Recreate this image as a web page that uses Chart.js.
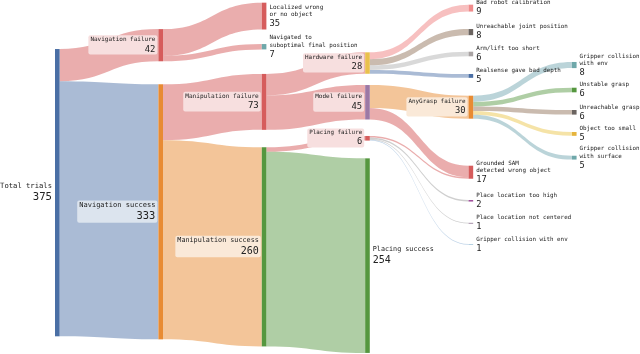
<!DOCTYPE html>
<html>
<head>
<meta charset="utf-8">
<script src="https://cdn.jsdelivr.net/npm/chart.js@4.4.0/dist/chart.umd.min.js"></script>
<style>
  html, body { margin: 0; padding: 0; background: #fff; }
  #wrap { width: 640px; height: 354px; }
</style>
</head>
<body>
<div id="wrap"><canvas id="sankey"></canvas></div>
<script>
// nodes of the flow diagram
const nodeNames = [
  'Total trials', 'Navigation failure', 'Navigation success',
  'Localized wrong\nor no object', 'Navigated to\nsuboptimal final position',
  'Manipulation failure', 'Manipulation success',
  'Hardware failure', 'Model failure', 'Placing failure', 'Placing success',
  'Bad robot calibration', 'Unreachable joint position', 'Arm/lift too short',
  'Realsense gave bad depth', 'AnyGrasp failure', 'Grounded SAM\ndetected wrong object',
  'Place location too high', 'Place location not centered', 'Gripper collision with env',
  'Gripper collision\nwith env', 'Unstable grasp', 'Unreachable grasp',
  'Object too small', 'Gripper collision\nwith surface'
];
const nodeValues = [375, 42, 333, 35, 7, 73, 260, 28, 45, 6, 254, 9, 8, 6, 5, 30, 17, 2, 1, 1, 8, 6, 6, 5, 5];

// flows: source index, target index, size
const linkSource = [0, 0, 1, 1, 2, 2, 5, 5, 6, 6, 7, 7, 7, 7, 8, 8, 9, 9, 9, 9, 15, 15, 15, 15, 15];
const linkTarget = [1, 2, 3, 4, 5, 6, 7, 8, 9, 10, 11, 12, 13, 14, 15, 16, 16, 17, 18, 19, 20, 21, 22, 23, 24];
const linkValues = [42, 333, 35, 7, 73, 260, 28, 45, 6, 254, 9, 8, 6, 5, 30, 15, 2, 2, 1, 1, 8, 6, 6, 5, 5];

// layout: column of each node and the free space above it (in flow units)
const nodeColumn = [0, 1, 1, 2, 2, 2, 2, 3, 3, 3, 3, 4, 4, 4, 4, 4, 4, 4, 4, 4, 5, 5, 5, 5, 5];
const nodeGap = [64, 38, 30, 3.5, 19, 32, 22.7, 68.3, 14.7, 21.5, 23.2,
  6.1, 22.8, 21.6, 23.1, 23.3, 61.4, 27.8, 27.8, 26.6, 80.9, 25.6, 23.1, 22.7, 26];

// colours
const RED = '#d65c5c', BLUE = '#4a6fa5', ORANGE = '#e88b33', GREEN = '#55973f', TEAL = '#6fa8aa';
const nodeColors = [BLUE, RED, ORANGE, RED, TEAL, RED, GREEN, '#e9c04c', '#9c78a5', RED, GREEN,
  '#f08c8c', '#6b6460', '#a9a3a3', BLUE, ORANGE, RED, '#a04f9c', '#8c6f8f', '#9ec3d9',
  TEAL, GREEN, '#6b6460', '#e6b43c', TEAL];
const linkColors = [
  'rgba(214,92,92,0.5)', 'rgba(74,111,165,0.47)', 'rgba(214,92,92,0.5)', 'rgba(214,92,92,0.5)',
  'rgba(214,92,92,0.5)', 'rgba(232,139,51,0.5)', 'rgba(214,92,92,0.5)', 'rgba(214,92,92,0.5)',
  'rgba(214,92,92,0.5)', 'rgba(85,151,63,0.47)', 'rgba(240,140,140,0.55)', 'rgba(150,120,95,0.5)',
  'rgba(170,170,170,0.45)', 'rgba(74,111,165,0.47)', 'rgba(232,139,51,0.5)', 'rgba(214,92,92,0.5)',
  'rgba(214,92,92,0.5)', 'rgba(160,160,160,0.5)', 'rgba(160,160,160,0.5)', 'rgba(130,170,210,0.5)',
  'rgba(120,170,180,0.5)', 'rgba(85,151,63,0.47)', 'rgba(150,120,95,0.5)', 'rgba(235,200,80,0.5)',
  'rgba(120,170,180,0.5)'
];
const boxColors = { red: 'rgb(247,223,223)', blue: 'rgb(220,228,238)', orange: 'rgb(250,233,216)' };

const NODE_W = 0.0445; // in column units
const FONT = '"DejaVu Sans Mono", monospace';

// stack nodes inside their column
const nodeTop = [];
const colEnd = {};
nodeValues.forEach((v, i) => {
  const c = nodeColumn[i];
  const start = (colEnd[c] || 0) + nodeGap[i];
  nodeTop.push(start);
  colEnd[c] = start + v;
});

const sankeyPlugin = {
  id: 'sankey',
  afterDatasetsDraw(chart) {
    const { ctx, scales: { x, y } } = chart;
    const outUsed = nodeValues.map(() => 0);
    const inUsed = nodeValues.map(() => 0);

    // links
    linkValues.forEach((v, i) => {
      const s = linkSource[i], t = linkTarget[i];
      const x0 = x.getPixelForValue(nodeColumn[s] + NODE_W);
      const x1 = x.getPixelForValue(nodeColumn[t]);
      const a0 = y.getPixelForValue(nodeTop[s] + outUsed[s]);
      const b0 = y.getPixelForValue(nodeTop[s] + outUsed[s] + v);
      const a1 = y.getPixelForValue(nodeTop[t] + inUsed[t]);
      const b1 = y.getPixelForValue(nodeTop[t] + inUsed[t] + v);
      outUsed[s] += v;
      inUsed[t] += v;
      const xm = (x0 + x1) / 2;
      ctx.beginPath();
      ctx.moveTo(x0, a0);
      ctx.bezierCurveTo(xm, a0, xm, a1, x1, a1);
      ctx.lineTo(x1, b1);
      ctx.bezierCurveTo(xm, b1, xm, b0, x0, b0);
      ctx.closePath();
      ctx.fillStyle = linkColors[i];
      ctx.fill();
    });

    // nodes
    nodeValues.forEach((v, i) => {
      const xl = x.getPixelForValue(nodeColumn[i]);
      const xr = x.getPixelForValue(nodeColumn[i] + NODE_W);
      const yt = y.getPixelForValue(nodeTop[i]);
      const yb = y.getPixelForValue(nodeTop[i] + v);
      ctx.fillStyle = nodeColors[i];
      ctx.fillRect(xl, yt, xr - xl, yb - yt);
    });

    // labels
    nodeValues.forEach((v, i) => {
      const lines = nodeNames[i].split('\n');
      const nf = 5.85 + 0.0036 * v;
      const vf = nf * 1.48;
      const nameLH = nf * 1.25;
      const valLH = vf * 1.05;
      const blockH = lines.length * nameLH + valLH;
      const cy = (y.getPixelForValue(nodeTop[i]) + y.getPixelForValue(nodeTop[i] + v)) / 2;
      const top = cy - blockH / 2;
      const hasOut = linkSource.includes(i);
      const inIdx = linkTarget.indexOf(i);
      const xl = x.getPixelForValue(nodeColumn[i]);
      const xr = x.getPixelForValue(nodeColumn[i] + NODE_W);

      if (hasOut) {
        const tx = xl - 3;
        if (inIdx >= 0) {
          ctx.font = `${nf}px ${FONT}`;
          let w = Math.max(...lines.map(l => ctx.measureText(l).width));
          ctx.font = `${vf}px ${FONT}`;
          w = Math.max(w, ctx.measureText(String(v)).width);
          const c = linkColors[inIdx];
          const box = c.startsWith('rgba(214') ? boxColors.red
            : c.startsWith('rgba(74') ? boxColors.blue : boxColors.orange;
          ctx.fillStyle = box;
          ctx.beginPath();
          ctx.roundRect(tx - w - 2, top - 1.5, xl - 1 - (tx - w - 2), blockH + 2.5, 2);
          ctx.fill();
        }
        ctx.textAlign = 'right';
        drawText(ctx, lines, v, tx, top, nf, vf, nameLH);
      } else {
        ctx.textAlign = 'left';
        drawText(ctx, lines, v, xr + 3, top, nf, vf, nameLH);
      }
    });
  }
};

function drawText(ctx, lines, v, tx, top, nf, vf, nameLH) {
  ctx.fillStyle = '#222';
  ctx.textBaseline = 'top';
  ctx.font = `${nf}px ${FONT}`;
  lines.forEach((l, k) => ctx.fillText(l, tx, top + k * nameLH));
  ctx.font = `${vf}px ${FONT}`;
  ctx.fillText(String(v), tx, top + lines.length * nameLH + 0.5);
}

new Chart(document.getElementById('sankey').getContext('2d'), {
  type: 'scatter',
  data: { datasets: [{ data: [] }] },
  options: {
    responsive: true,
    maintainAspectRatio: false,
    animation: false,
    layout: { padding: 0 },
    scales: {
      x: { type: 'linear', display: false, min: -0.532, max: 5.658 },
      y: { type: 'linear', display: false, min: 0, max: 462.1, reverse: true }
    },
    plugins: { legend: { display: false }, tooltip: { enabled: false } }
  },
  plugins: [sankeyPlugin]
});
</script>
</body>
</html>
